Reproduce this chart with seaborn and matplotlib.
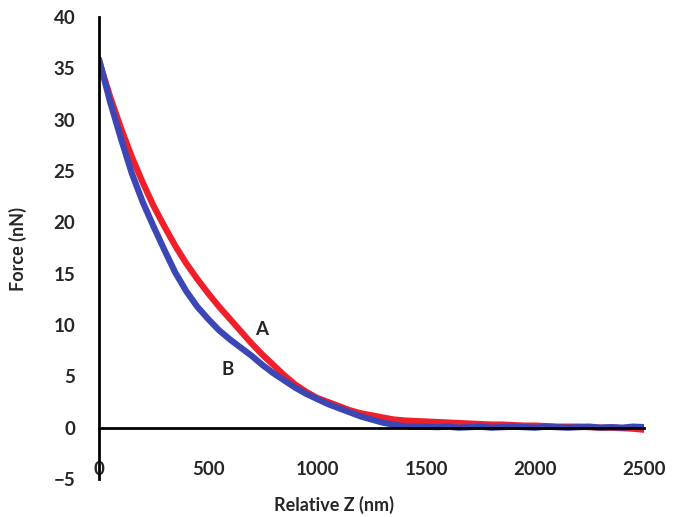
import numpy as np
import pandas as pd
import matplotlib
matplotlib.use("Agg")
import matplotlib.pyplot as plt
import seaborn as sns

# Relative Z positions (nm), read every 50 nm off the picture
z_nm = list(range(0, 2550, 50))

# Curve A (red)
force_a = [35.7, 32.3, 29.2, 26.4, 23.9, 21.6, 19.6, 17.7, 16.0, 14.5,
           13.1, 11.8, 10.6, 9.4, 8.2, 7.1, 6.1, 5.1, 4.2, 3.5,
           2.9, 2.5, 2.1, 1.7, 1.4, 1.2, 1.0, 0.8, 0.7, 0.65,
           0.6, 0.55, 0.5, 0.45, 0.4, 0.35, 0.3, 0.3, 0.25, 0.2,
           0.2, 0.15, 0.1, 0.1, 0.1, 0.05, 0.0, 0.0, -0.05, -0.1, -0.2]

# Curve B (blue)
force_b = [35.9, 31.8, 28.2, 24.8, 22.0, 19.6, 17.3, 15.1, 13.3, 11.8,
           10.6, 9.5, 8.6, 7.8, 7.0, 6.1, 5.3, 4.6, 3.9, 3.3,
           2.8, 2.3, 1.9, 1.5, 1.1, 0.8, 0.5, 0.3, 0.15, 0.1,
           0.1, 0.05, 0.1, 0.0, 0.05, 0.1, 0.0, 0.05, 0.1, 0.05,
           0.0, 0.1, 0.05, 0.0, 0.05, 0.1, 0.0, 0.05, 0.0, 0.1, 0.05]

curve_labels = ["A", "B"]
label_pos = [(748, 9.6), (592, 5.7)]

df = pd.DataFrame({
    "z": z_nm * 2,
    "force": force_a + force_b,
    "curve": ["A"] * len(z_nm) + ["B"] * len(z_nm),
})

sns.set_style("white")
plt.rcParams["font.family"] = ["Lato", "DejaVu Sans"]

fig = plt.figure(figsize=(6.82, 5.17), dpi=100)
ax = fig.add_axes([0.1452, 0.0735, 0.7991, 0.8936])

sns.lineplot(data=df, x="z", y="force", hue="curve",
             palette={"A": "#f0202a", "B": "#3c46b4"},
             linewidth=4.5, legend=False, ax=ax)

ax.set_xlim(0, 2500)
ax.set_ylim(-5, 40)
ax.set_xticks(range(0, 2501, 500))
ax.set_yticks(range(-5, 41, 5))

for s in ["top", "right"]:
    ax.spines[s].set_visible(False)
ax.spines["left"].set_position(("data", 0))
ax.spines["bottom"].set_position(("data", 0))
for s in ["left", "bottom"]:
    ax.spines[s].set_linewidth(2)
    ax.spines[s].set_color("black")

ax.tick_params(axis="x", direction="out", length=8, width=2, pad=16,
               labelsize=13.5)
ax.tick_params(axis="y", direction="out", length=8, width=2, pad=9,
               labelsize=13.5)
for t in ax.get_xticklabels() + ax.get_yticklabels():
    t.set_fontweight("bold")

ax.set_xlabel("Relative Z (nm)", fontsize=13, fontweight="bold")
ax.set_ylabel("Force (nN)", fontsize=13, fontweight="bold")
ax.xaxis.set_label_coords(0.431, -0.037)
ax.yaxis.set_label_coords(-0.132, 0.498)

for lab, (x, y) in zip(curve_labels, label_pos):
    ax.text(x, y, lab, fontsize=13.5, fontweight="bold",
            ha="center", va="center")

fig.savefig("out.png", dpi=100)
